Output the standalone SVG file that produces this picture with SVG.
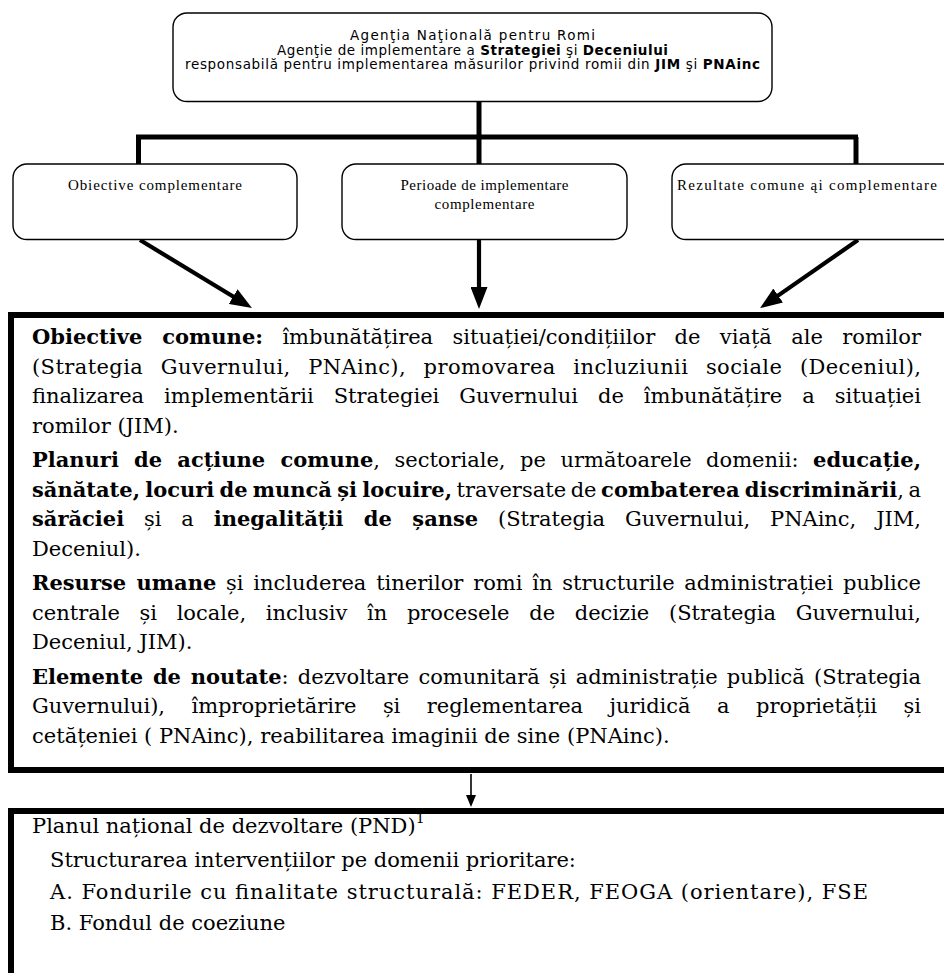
<svg xmlns="http://www.w3.org/2000/svg" width="944" height="973" viewBox="0 0 944 973">
<style>
.bg{fill:#ffffff}
.rbox{fill:#ffffff;stroke:#000000;stroke-width:1.4}
.bigbox{fill:#ffffff;stroke:#000000;stroke-width:6}
.sans{font-family:"DejaVu Sans","Verdana",sans-serif;font-size:13.5px;fill:#000000}
.small{font-family:"Liberation Serif","Times New Roman",serif;font-size:15px;fill:#000000}
.body{font-family:"DejaVu Serif","Liberation Serif",serif;font-size:21px;fill:#000000}
.b{font-weight:bold}
.conn{fill:none;stroke:#000000;stroke-linecap:butt}
.thick{stroke-width:5}
.arr{stroke-width:4.2}
.thin{stroke-width:1.6}
</style>
<defs>
<marker id="ah" viewBox="0 0 22 17" markerWidth="22" markerHeight="17" refX="12" refY="8.5" orient="auto" markerUnits="userSpaceOnUse">
<path d="M0,0 L22,8.5 L0,17 z" fill="#000000"/>
</marker>
<marker id="ahs" viewBox="0 0 12 10" markerWidth="12" markerHeight="10" refX="10" refY="5" orient="auto" markerUnits="userSpaceOnUse">
<path d="M0,0 L12,5 L0,10 z" fill="#000000"/>
</marker>
</defs>
<rect class="bg" x="0" y="0" width="944" height="973"/>

<g id="connectors">
<path class="conn thick" d="M479,101 V137"/>
<path class="conn thick" d="M136,137 H858"/>
<path class="conn thick" d="M138.5,137 V164"/>
<path class="conn thick" d="M479,137 V164"/>
<path class="conn thick" d="M856,137 V164"/>
<line class="conn arr" x1="140" y1="240" x2="243.4" y2="302.8" marker-end="url(#ah)"/>
<line class="conn arr" x1="479" y1="240" x2="479" y2="299" marker-end="url(#ah)"/>
<line class="conn arr" x1="858" y1="240" x2="768.3" y2="302.4" marker-end="url(#ah)"/>
<line class="conn thin" x1="471" y1="774" x2="471" y2="805" marker-end="url(#ahs)"/>
</g>

<g id="node-anr">
<rect class="rbox" x="173" y="13" width="599" height="88.5" rx="14" ry="14"/>
<text class="sans" x="472.5" y="39.5" text-anchor="middle" textLength="245" lengthAdjust="spacing">Agenţia Naţională pentru Romi</text>
<text class="sans" x="472.5" y="54.5" text-anchor="middle" textLength="391" lengthAdjust="spacing">Agenţie de implementare a <tspan class="b">Strategiei</tspan> şi <tspan class="b">Deceniului</tspan></text>
<text class="sans" x="472.5" y="69" text-anchor="middle" textLength="575" lengthAdjust="spacing">responsabilă pentru implementarea măsurilor privind romii din <tspan class="b">JIM</tspan> şi <tspan class="b">PNAinc</tspan></text>
</g>

<g id="node-obiective">
<rect class="rbox" x="13" y="164" width="284" height="75.5" rx="14" ry="14"/>
<text class="small" x="155" y="190" text-anchor="middle" textLength="174" lengthAdjust="spacing">Obiective complementare</text>
</g>

<g id="node-perioade">
<rect class="rbox" x="342" y="164" width="285" height="75.5" rx="14" ry="14"/>
<text class="small" x="484.5" y="190" text-anchor="middle" textLength="168" lengthAdjust="spacing">Perioade de implementare</text>
<text class="small" x="484.5" y="209" text-anchor="middle" textLength="100" lengthAdjust="spacing">complementare</text>
</g>

<g id="node-rezultate">
<rect class="rbox" x="672" y="164" width="290" height="75.5" rx="14" ry="14"/>
<text class="small" x="807" y="190" text-anchor="middle" textLength="260" lengthAdjust="spacing">Rezultate comune ąi complementare</text>
</g>

<g id="node-comune">
<rect class="bigbox" x="11" y="315" width="950" height="455"/>
<text class="body" x="32" y="344" style="word-spacing:12.7px" textLength="889" lengthAdjust="spacing"><tspan class="b">Obiective comune:</tspan> îmbunătățirea situației/condițiilor de viață ale romilor</text>
<text class="body" x="32" y="373.5" style="word-spacing:10.5px" textLength="889" lengthAdjust="spacing">(Strategia Guvernului, PNAinc), promovarea incluziunii sociale (Deceniul),</text>
<text class="body" x="32" y="403" style="word-spacing:13.3px" textLength="889" lengthAdjust="spacing">finalizarea implementării Strategiei Guvernului de îmbunătățire a situației</text>
<text class="body" x="32" y="432.5">romilor (JIM).</text>
<text class="body" x="32" y="467" style="word-spacing:7.9px" textLength="889" lengthAdjust="spacing"><tspan class="b">Planuri de acțiune comune</tspan>, sectoriale, pe următoarele domenii: <tspan class="b">educație,</tspan></text>
<text class="body" x="32" y="496.5" style="word-spacing:-2.1px" textLength="889" lengthAdjust="spacing"><tspan class="b">sănătate, locuri de muncă și locuire,</tspan> traversate de <tspan class="b">combaterea discriminării</tspan>, a</text>
<text class="body" x="32" y="526" style="word-spacing:13.2px" textLength="889" lengthAdjust="spacing"><tspan class="b">sărăciei</tspan> și a <tspan class="b">inegalității de șanse</tspan> (Strategia Guvernului, PNAinc, JIM,</text>
<text class="body" x="32" y="555.5">Deceniul).</text>
<text class="body" x="32" y="590" style="word-spacing:3.1px" textLength="889" lengthAdjust="spacing"><tspan class="b">Resurse umane</tspan> și includerea tinerilor romi în structurile administrației publice</text>
<text class="body" x="32" y="619.5" style="word-spacing:13px" textLength="889" lengthAdjust="spacing">centrale și locale, inclusiv în procesele de decizie (Strategia Guvernului,</text>
<text class="body" x="32" y="649">Deceniul, JIM).</text>
<text class="body" x="32" y="683.5" style="word-spacing:2.5px" textLength="889" lengthAdjust="spacing"><tspan class="b">Elemente de noutate</tspan>: dezvoltare comunitară și administrație publică (Strategia</text>
<text class="body" x="32" y="713" style="word-spacing:19.9px" textLength="889" lengthAdjust="spacing">Guvernului), împroprietărire și reglementarea juridică a proprietății și</text>
<text class="body" x="32" y="742.5">cetățeniei ( PNAinc), reabilitarea imaginii de sine (PNAinc).</text>
</g>

<g id="node-pnd">
<rect class="bigbox" x="11" y="811" width="950" height="200"/>
<text class="body" x="32" y="833">Planul național de dezvoltare (PND)<tspan font-size="14" dy="-10">1</tspan></text>
<text class="body" x="50" y="867">Structurarea intervențiilor pe domenii prioritare:</text>
<text class="body" x="50" y="899" textLength="818" lengthAdjust="spacing">A. Fondurile cu finalitate structurală: FEDER, FEOGA (orientare), FSE</text>
<text class="body" x="50" y="930">B. Fondul de coeziune</text>
</g>
</svg>
